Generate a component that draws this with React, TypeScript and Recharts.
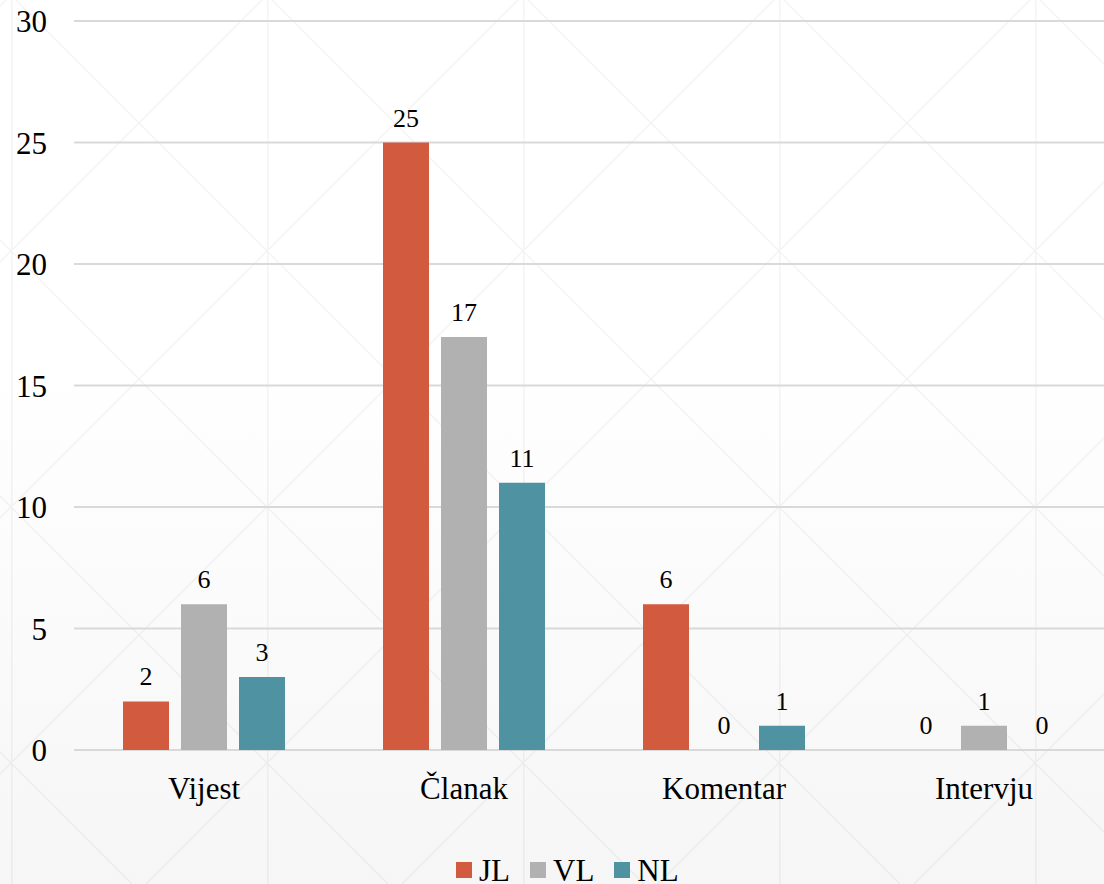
import React from "react";
import {
  BarChart,
  Bar,
  XAxis,
  YAxis,
  CartesianGrid,
  Legend,
  LabelList,
} from "recharts";

const CATEGORIES = ["Vijest", "Članak", "Komentar", "Intervju"];
const JL = [2, 25, 6, 0];
const VL = [6, 17, 0, 1];
const NL = [3, 11, 1, 0];
const Y_TICKS = [0, 5, 10, 15, 20, 25, 30];

const SERIES = [
  { key: "JL", color: "#D25A3E" },
  { key: "VL", color: "#B1B1B1" },
  { key: "NL", color: "#4F92A2" },
];

const data = CATEGORIES.map((name, i) => ({
  name,
  JL: JL[i],
  VL: VL[i],
  NL: NL[i],
}));

const FONT = "'Liberation Serif', 'Times New Roman', serif";

// faint diamond texture behind the chart
const TILE =
  "data:image/svg+xml;utf8," +
  encodeURIComponent(
    `<svg xmlns="http://www.w3.org/2000/svg" width="256" height="256"><g stroke="#000" stroke-opacity="0.045" stroke-width="1.5" fill="none"><path d="M0 0L256 256M256 0L0 256M0.75 0V256"/></g></svg>`
  );

// simple legend: coloured square + series name
function ChartLegend() {
  return (
    <div
      style={{
        display: "flex",
        justifyContent: "flex-start",
        alignItems: "center",
        fontFamily: FONT,
        fontSize: 31,
        lineHeight: "27px",
        color: "#000",
        paddingLeft: 456,
        paddingTop: 11,
        height: 50,
      }}
    >
      {SERIES.map((s) => (
        <div
          key={s.key}
          style={{ display: "flex", alignItems: "center", marginRight: 20 }}
        >
          <span
            style={{
              width: 16,
              height: 16,
              background: s.color,
              display: "inline-block",
              marginRight: 7,
            }}
          />
          <span>{s.key}</span>
        </div>
      ))}
    </div>
  );
}

export default function App() {
  return (
    <div
      style={{
        width: 1104,
        height: 884,
        position: "relative",
        overflow: "hidden",
        fontFamily: FONT,
        backgroundImage: `url("${TILE}"), linear-gradient(#ffffff, #ffffff 40%, #f6f6f6)`,
        backgroundPosition: "11px -5px, 0 0",
        backgroundSize: "256px 256px, 100% 100%",
        backgroundRepeat: "repeat, no-repeat",
      }}
    >
      <style>{`body{margin:0}`}</style>
      <BarChart
        width={1104}
        height={884}
        data={data}
        margin={{ top: 21, right: -10, left: 0, bottom: 0 }}
        barCategoryGap={49}
        barGap={12}
        style={{ overflow: "visible" }}
      >
        <CartesianGrid vertical={false} stroke="#D9D9D9" strokeWidth={2} />
        <XAxis
          dataKey="name"
          axisLine={false}
          tickLine={false}
          height={84}
          tickSize={0}
          tickMargin={27}
          tick={{ fill: "#000", fontSize: 31, fontFamily: FONT }}
        />
        <YAxis
          domain={[0, 30]}
          ticks={Y_TICKS}
          width={74}
          axisLine={false}
          tickLine={false}
          tickSize={0}
          tickMargin={27}
          tick={{ fill: "#000", fontSize: 31, fontFamily: FONT }}
        />
        <Legend verticalAlign="bottom" height={50} content={<ChartLegend />} />
        {SERIES.map((s) => (
          <Bar
            key={s.key}
            dataKey={s.key}
            fill={s.color}
            minPointSize={0.01}
            isAnimationActive={false}
          >
            <LabelList
              dataKey={s.key}
              position="top"
              offset={16}
              fill="#000"
              fontSize={26}
              fontFamily={FONT}
            />
          </Bar>
        ))}
      </BarChart>
    </div>
  );
}
